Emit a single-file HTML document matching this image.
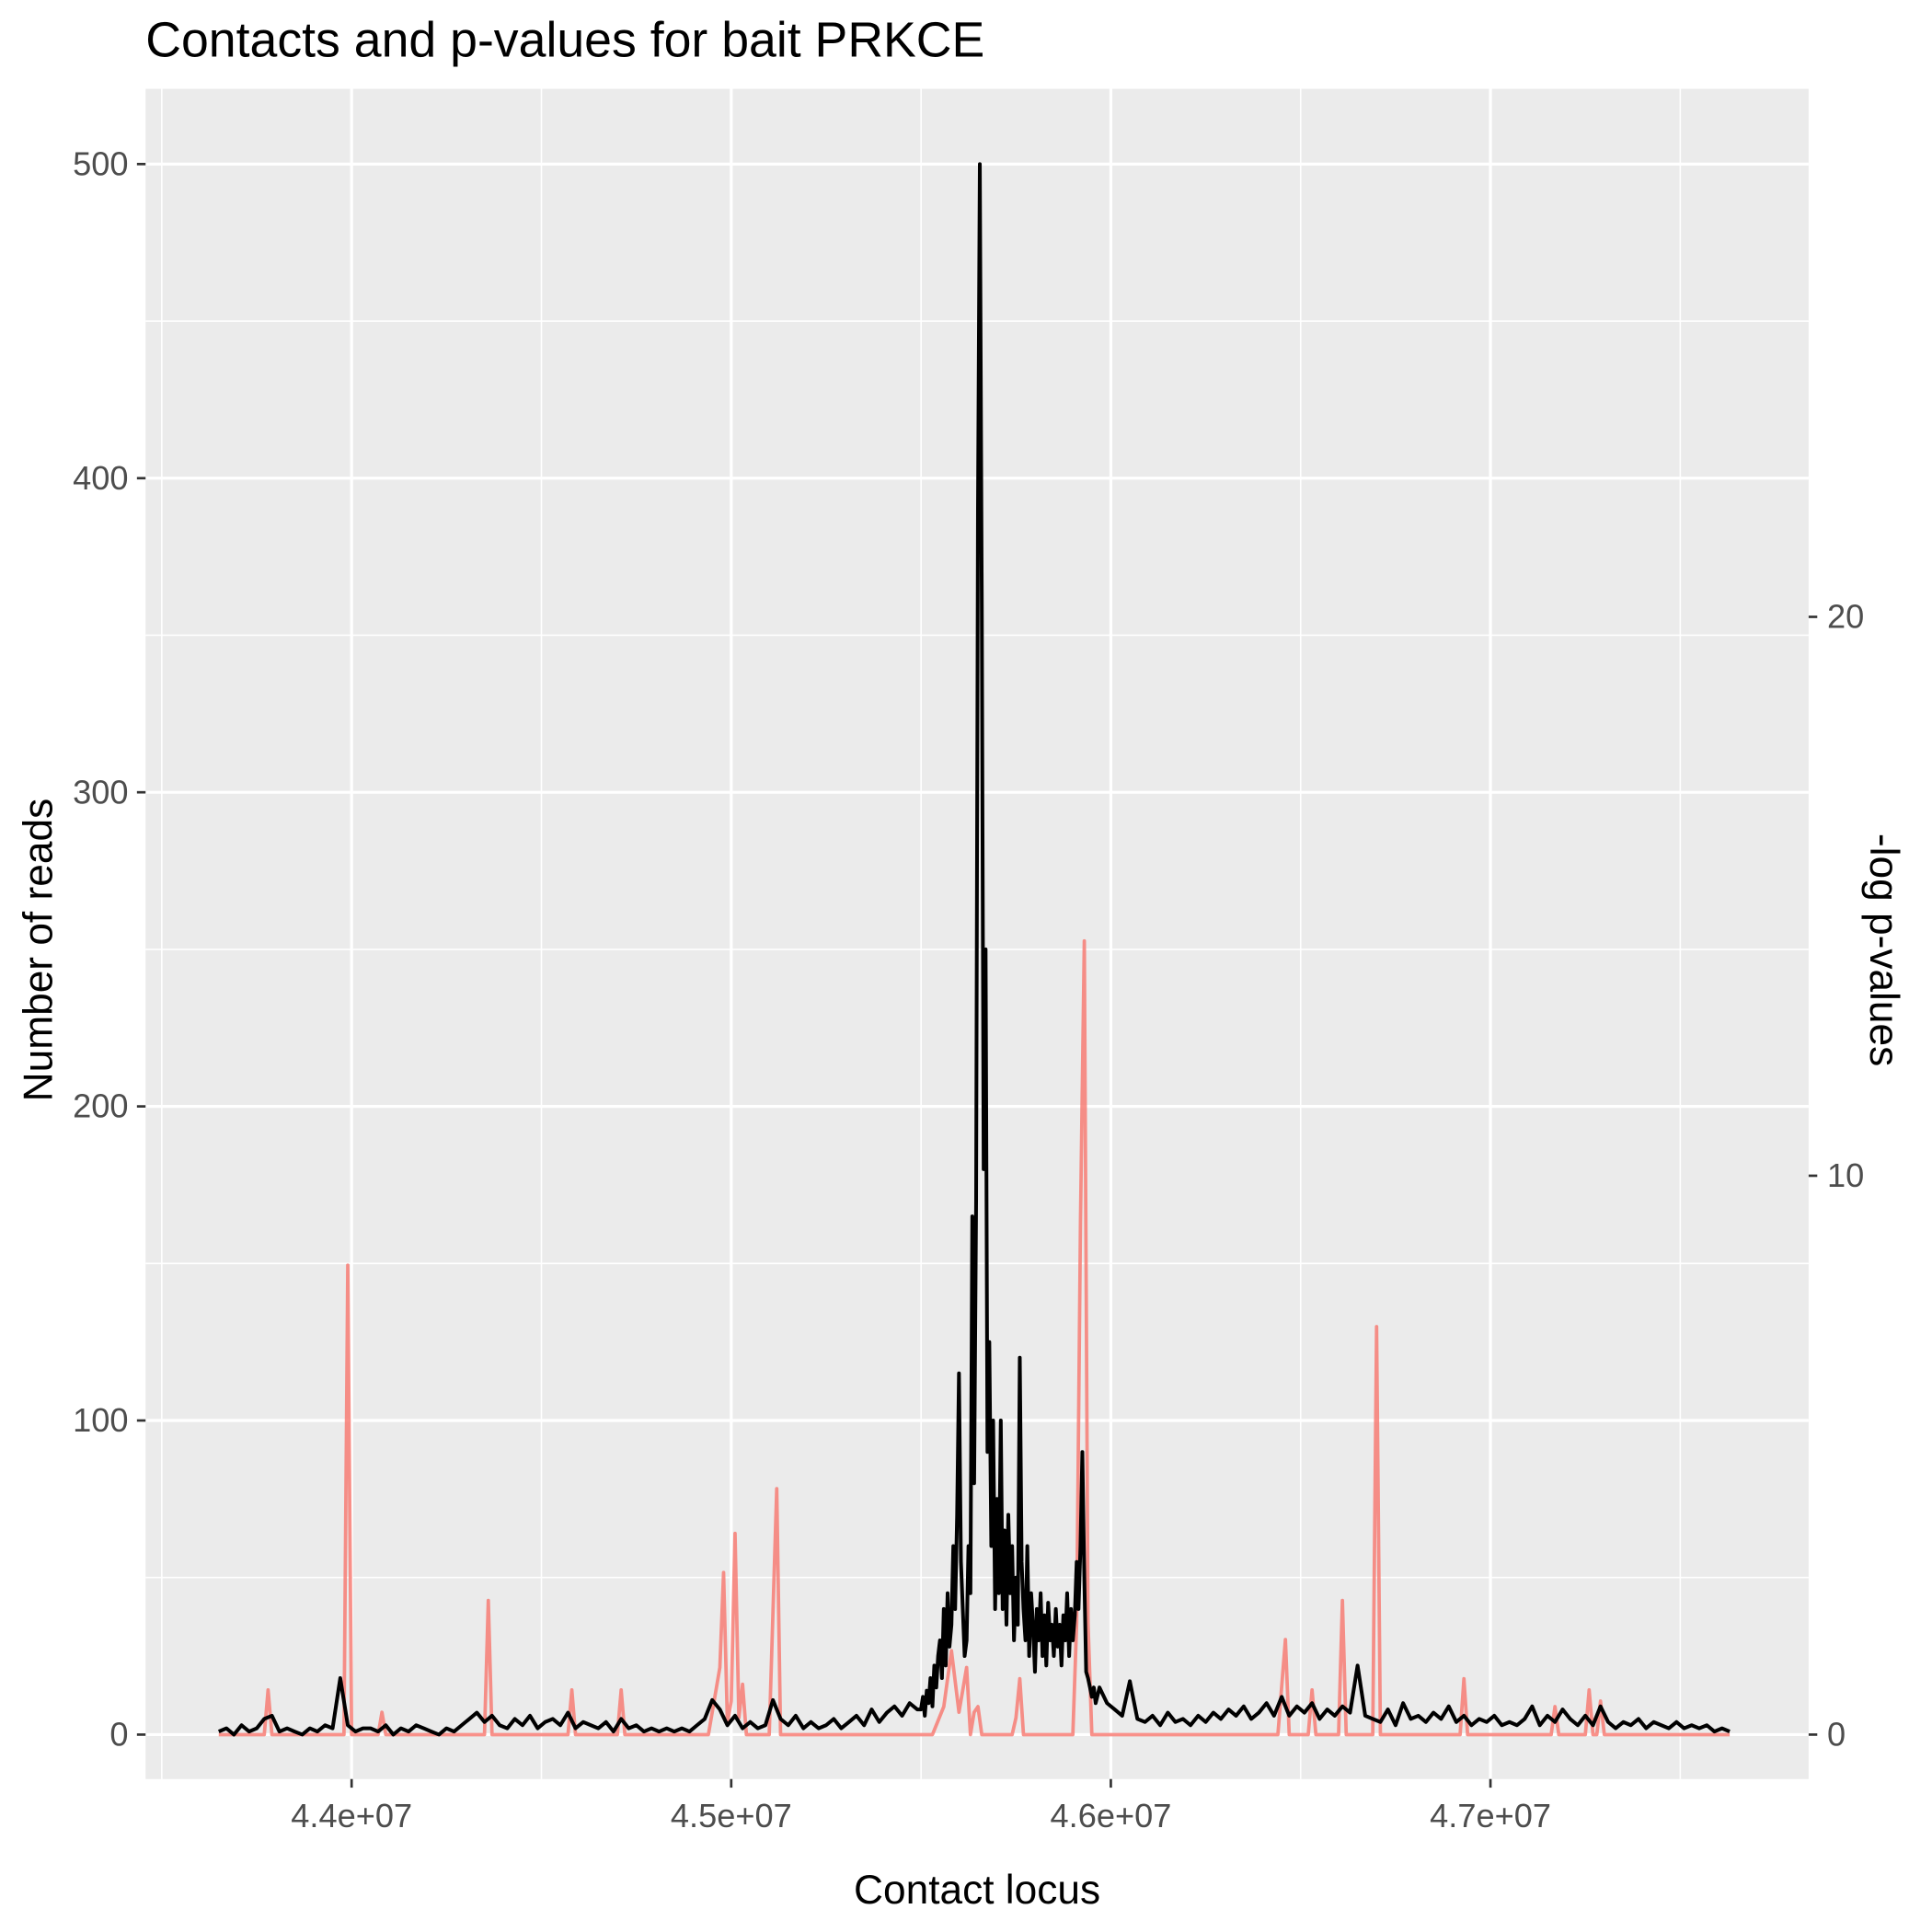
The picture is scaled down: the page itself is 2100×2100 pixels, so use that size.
<!DOCTYPE html>
<html><head><meta charset="utf-8"><style>
html,body{margin:0;padding:0;background:#fff}
svg{display:block;font-family:"Liberation Sans",sans-serif}
</style></head><body>
<svg id="chart" width="2100" height="2100" viewBox="0 0 1566 1566" xmlns="http://www.w3.org/2000/svg">
<text x="118" y="46" font-size="40" fill="#000">Contacts and p-values for bait PRKCE</text>
<rect x="118" y="72" width="1348" height="1370" fill="#EBEBEB"/>
<g id="grid"></g>
<g id="series"></g>
<g id="axes"></g>
<text x="792" y="1543" font-size="33" text-anchor="middle" fill="#000">Contact locus</text>
<text transform="translate(42,770) rotate(-90)" font-size="33" text-anchor="middle" fill="#000">Number of reads</text>
<text transform="translate(1516,770) rotate(90)" font-size="33" text-anchor="middle" fill="#000">-log p-values</text>
</svg>
<script>
const xTicks=[44,45,46,47];
const xTickLabels=["4.4e+07","4.5e+07","4.6e+07","4.7e+07"];
const xMinor=[43.5,44.5,45.5,46.5,47.5];
const yTicks=[0,100,200,300,400,500];
const yMinor=[50,150,250,350,450];
const y2Ticks=[0,10,20];
const readsStart=43.65, readsStep=0.02;
const reads=[1,2,0,3,1,2,5,6,1,2, 1,0,2,1,3,2,18,3,1,2, 2,1,3,0,2,1,3,2,1,0, 2,1,3,5,7,4,6,3,2,5,
3,6,2,4,5,3,7,2,4,3, 2,4,1,5,2,3,1,2,1,2, 1,2,1,3,5,11,8,3,6,2, 4,2,3,11,5,3,6,2,4,2,
3,5,2,4,6,3,8,4,7,9, 6,10,8,14,25,40,30,115,45,165, 500,250,90,120,60,80,45,120,55,40,
50,30,45,35,90,20,15,10,8,6, 17,5,4,6,3,7,4,5,3,6, 4,7,5,8,6,9,5,7,10,6, 12,6,9,7,10,5,8,6,9,7,
22,6,5,4,8,3,10,5,6,4, 7,5,9,4,6,3,5,4,6,3, 4,3,5,9,3,6,4,8,5,3, 6,3,9,4,2,4,3,5,2,4, 3,2,4,2,3,2,3,1,2,1];
const fineStart=45.50, fineStep=0.005;
const fineReads=[8,12,6,14,10,18,9,22,15,25, 30,18,40,22,45,28,35,60,40,70, 115,55,40,25,30,60,45,165,80,170,
390,500,360,180,250,90,125,60,100,40, 75,45,100,40,65,35,70,45,60,30, 50,35,120,55,40,30,60,25,45,35,
20,40,30,45,25,38,22,42,30,35, 25,40,28,35,22,38,30,45,25,40, 30,38,55,40,60,90,50,20,18,15, 12,15,10];
const pPos=[43.65,43.77,43.78,43.79,43.98,43.99,44.0,44.07,44.08,44.09,44.35,44.36,44.37,44.57,44.58,44.59,44.70,44.71,44.72,
44.94,44.97,44.98,44.99,45.0,45.01,45.02,45.03,45.04,45.10,45.12,45.13,45.53,45.56,45.58,45.60,45.61,45.62,45.63,45.64,45.65,45.66,
45.74,45.75,45.76,45.77,45.90,45.91,45.92,45.93,45.94,45.95,46.44,46.46,46.47,46.52,46.53,46.54,46.60,46.61,46.62,46.69,46.70,46.71,
46.92,46.93,46.94,47.16,47.17,47.18,47.25,47.26,47.27,47.28,47.29,47.30,47.63];
const pVal=[0,0,0.8,0,0,8.4,0,0,0.4,0,0,2.4,0,0,0.8,0,0,0.8,0,
0,1.2,2.9,0.2,0.6,3.6,0.3,0.9,0,0,4.4,0,0,0.5,1.5,0.4,0.8,1.2,0,0.4,0.5,0,
0,0.3,1.0,0,0,2,9.2,14.2,2,0,0,1.7,0,0,0.8,0,0,2.4,0,0,7.3,0,
0,1.0,0,0,0.5,0,0,0.8,0,0,0.6,0,0];
const NS="http://www.w3.org/2000/svg";
const xs=v=>285+(v-44)*307.7;
const ys=v=>1406-v*2.546;
const y2s=v=>1406-v*45.3;
function mk(tag,attrs,parent){const e=document.createElementNS(NS,tag);for(const k in attrs)e.setAttribute(k,attrs[k]);parent.appendChild(e);return e;}
const grid=document.getElementById('grid'),axes=document.getElementById('axes'),series=document.getElementById('series');
yMinor.forEach(v=>{const l=mk('line',{x1:118,x2:1466,y1:ys(v),y2:ys(v),stroke:'#fff','stroke-width':1.2},grid);

});
xMinor.forEach(v=>{const l=mk('line',{x1:xs(v),x2:xs(v),y1:72,y2:1442,stroke:'#fff','stroke-width':1.2},grid);

});
yTicks.forEach(v=>{const l=mk('line',{x1:118,x2:1466,y1:ys(v),y2:ys(v),stroke:'#fff','stroke-width':2.4},grid);


const t=mk('line',{x1:111,x2:118,y1:ys(v),y2:ys(v),stroke:'#333','stroke-width':2},axes);


const tx=mk('text',{x:104,y:ys(v)+9,'font-size':27,'text-anchor':'end',fill:'#4D4D4D'},axes);tx.textContent=v;

});
xTicks.forEach((v,i)=>{const l=mk('line',{x1:xs(v),x2:xs(v),y1:72,y2:1442,stroke:'#fff','stroke-width':2.4},grid);


const t=mk('line',{x1:xs(v),x2:xs(v),y1:1442,y2:1449,stroke:'#333','stroke-width':2},axes);


const tx=mk('text',{x:xs(v),y:1481,'font-size':27,'text-anchor':'middle',fill:'#4D4D4D'},axes);tx.textContent=xTickLabels[i];

});
y2Ticks.forEach(v=>{const t=mk('line',{x1:1466,x2:1473,y1:y2s(v),y2:y2s(v),stroke:'#333','stroke-width':2},axes);


const tx=mk('text',{x:1481,y:y2s(v)+9,'font-size':27,fill:'#4D4D4D'},axes);tx.textContent=v;

});
const pp=pPos.map((p,i)=>xs(p).toFixed(1)+','+y2s(pVal[i]).toFixed(1)).join(' ');
const pl=mk('polyline',{points:pp,fill:'none',stroke:'#F8766D','stroke-opacity':0.8,'stroke-width':2.8,'stroke-linejoin':'round'},series);


const fineEnd=fineStart+(fineReads.length-1)*fineStep;
const pts=[];
reads.forEach((r,i)=>{const p=readsStart+i*readsStep;if(p<fineStart-1e-9)pts.push([p,r]);});
fineReads.forEach((r,i)=>pts.push([fineStart+i*fineStep,r]));
reads.forEach((r,i)=>{const p=readsStart+i*readsStep;if(p>fineEnd+1e-9)pts.push([p,r]);});
const rp=pts.map(d=>xs(d[0]).toFixed(1)+','+ys(d[1]).toFixed(1)).join(' ');
const rl=mk('polyline',{points:rp,fill:'none',stroke:'#000','stroke-width':3,'stroke-linejoin':'round'},series);


</script>
</body></html>
